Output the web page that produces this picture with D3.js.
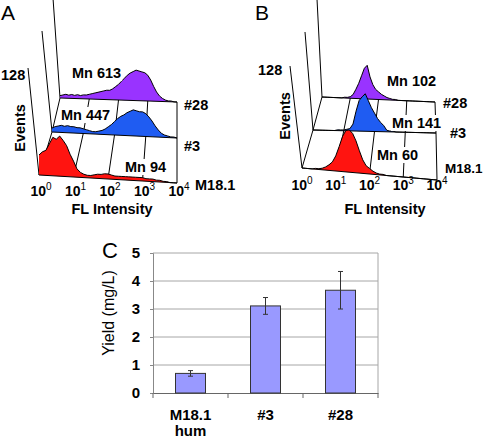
<!DOCTYPE html>
<html><head><meta charset="utf-8">
<script src="https://cdn.jsdelivr.net/npm/d3@7"></script>
<style>
body{margin:0;background:#fff}
svg{display:block}
text{font-family:"Liberation Sans",Arial,sans-serif;fill:#000}
</style>
</head><body>
<svg id="c" width="483" height="440"></svg>
<script>
// ---------------- data ----------------
const logBins = [0,0.1,0.2,0.3,0.4,0.5,0.6,0.7,0.8,0.9,1.0,1.1,1.2,1.3,1.4,1.5,1.6,1.7,1.8,1.9,2.0,
                 2.1,2.2,2.3,2.4,2.5,2.6,2.7,2.8,2.9,3.0,3.1,3.2,3.3,3.4,3.5,3.6,3.7,3.8,3.9,4.0];
const decades = [0,1,2,3,4];
const eventsMax = 128;
const samples = ["M18.1","#3","#28"];
const meansA = ["Mn 94","Mn 447","Mn 613"];
const meansB = ["Mn 60","Mn 141","Mn 102"];
// panel A histograms (events per log bin)
const histA_M181 = [24,28,30,38,46,44,48,43,37,27,19,10,6,4,3,3,4,5,5,6,6,5,4,4,4,4,4,4,4,4,4,3,3,3,2,2,1,1,0,0,0];
const histA_3    = [5,7,8,9,8,9,8,8,7,7,6,5,4,3,3,4,5,7,10,13,17,21,24,26,29,31,33,32,31,31,29,25,20,14,9,5,3,2,1,1,0];
const histA_28   = [3,4,5,4,5,4,5,4,5,5,6,7,8,9,10,11,12,12,14,17,20,24,28,32,35,37,39,38,37,36,33,27,19,12,7,4,2,1,1,0,0];
// panel B histograms
const histB_M181 = [0,0,0,0,1,1,2,4,7,11,19,31,44,52,53,49,40,28,17,10,7,4,2,1,1,0,0,0,0,0,0,0,0,0,0,0,0,0,0,0,0];
const histB_3    = [0,0,0,0,0,0,0,0,1,1,1,2,3,9,26,40,45,49,40,31,24,17,12,8,2,1,1,0,0,0,0,0,0,0,0,0,0,0,0,0,0];
const histB_28   = [0,0,0,0,0,0,0,0,1,1,2,5,12,20,30,40,44,29,19,13,10,7,5,3,2,1,1,0,0,0,0,0,0,0,0,0,0,0,0,0,0];
// panel C
const barCategories = ["M18.1 hum","#3","#28"];
const barLabelLines = [["M18.1","hum"],["#3"],["#28"]];
const yields   = [0.70, 3.11, 3.67];
const yieldErr = [0.10, 0.30, 0.67];
const yieldTicks = [0,1,2,3,4,5];

const histColors = ["#ff1410","#1f5cf2","#9933ff"];
const barColor = "#9999ff";

// ---------------- drawing ----------------
const svg = d3.select("#c");

function addText(g, str, x, y, size, weight, anchor) {
  return g.append("text").attr("x", x).attr("y", y)
    .style("font-size", size + "px").style("font-weight", weight || "bold")
    .attr("text-anchor", anchor || "start").text(str);
}

function drawHistPanel(cfg, hists, means) {
  const g = svg.append("g");
  const F = cfg.floors.map(f => Object.assign({}, f, {
    sx: d3.scaleLinear().domain([0, 4]).range([f.x0, f.x1]),
    sy: d3.scaleLinear().domain([0, 4]).range([f.y0, f.y1]),
    sh: d3.scaleLinear().domain([0, eventsMax]).range([0, f.h])
  }));
  const seg = (x1, y1, x2, y2) => g.append("line")
    .attr("x1", x1).attr("y1", y1).attr("x2", x2).attr("y2", y2)
    .attr("stroke", "#000").attr("stroke-width", 1);

  // event axes (slanted)
  F.forEach(f => seg(f.x0, f.y0, f.x0 + f.dx, f.y0 - f.h));

  for (let i = F.length - 1; i >= 0; i--) {
    const f = F[i];
    if (i < F.length - 1) {
      const b = F[i + 1];
      decades.forEach(d => seg(f.sx(d), f.sy(d), b.sx(d), b.sy(d)));
    }
    const pts = logBins.map((l, k) => ({ l: l, c: hists[i][k] }));
    const area = d3.area().x(d => f.sx(d.l)).y0(d => f.sy(d.l)).y1(d => f.sy(d.l) - f.sh(d.c));
    g.append("path").datum(pts).attr("d", area).attr("fill", histColors[i]);
    const ln = d3.line().x(d => f.sx(d.l)).y(d => f.sy(d.l) - f.sh(d.c));
    g.append("path").datum(pts).attr("d", ln).attr("fill", "none")
      .attr("stroke", "#000").attr("stroke-width", 1);
    seg(f.x0, f.y0, f.x1, f.y1);
  }

  // decade tick labels on front floor
  const fr = F[0];
  decades.forEach(d => {
    const t = g.append("text").attr("x", fr.sx(d) + cfg.tickDx).attr("y", cfg.tickY)
      .attr("text-anchor", "middle").style("font-size", "14px").style("font-weight", "bold");
    t.append("tspan").text("10");
    t.append("tspan").attr("dy", -6).style("font-size", "10px").style("font-weight", "normal").text(d);
  });

  // mean labels with white background
  means.forEach((m, i) => {
    const p = cfg.meanPos[i];
    const t = addText(g, m, p[0], p[1], 14.5, "bold");
    const bb = t.node().getBBox();
    g.insert("rect", () => t.node()).attr("x", bb.x - 1).attr("y", bb.y)
      .attr("width", bb.width + 2).attr("height", bb.height).attr("fill", "#fff");
  });
  samples.forEach((s, i) => addText(g, s, cfg.samplePos[i][0], cfg.samplePos[i][1], cfg.sampleSize[i], "bold"));

  addText(g, cfg.letter, cfg.letterPos[0], cfg.letterPos[1], 21, "normal");
  addText(g, String(eventsMax), cfg.maxPos[0], cfg.maxPos[1], 14.5, "bold");
  g.append("text").attr("transform", `translate(${cfg.eventsPos[0]},${cfg.eventsPos[1]}) rotate(-90)`)
    .attr("text-anchor", "middle").style("font-size", "14.5px").style("font-weight", "bold").text("Events");
  addText(g, "FL Intensity", cfg.flPos[0], cfg.flPos[1], 14.5, "bold", "middle");
}

drawHistPanel({
  floors: [
    { x0: 39, y0: 175, x1: 177, y1: 183, h: 107, dx: -11 },
    { x0: 52, y0: 132, x1: 177, y1: 138, h: 101, dx: -10 },
    { x0: 60, y0: 98,  x1: 177, y1: 102, h: 100, dx: -7 }
  ],
  tickDx: 2, tickY: 196,
  meanPos: [[125, 172], [61, 120], [72, 78]],
  samplePos: [[195, 190], [184, 151], [184, 110]],
  sampleSize: [14.5, 14.5, 14.5],
  letter: "A", letterPos: [1, 20],
  maxPos: [1, 80], eventsPos: [25, 128], flPos: [112, 214]
}, [histA_M181, histA_3, histA_28], meansA);

drawHistPanel({
  floors: [
    { x0: 302, y0: 168, x1: 437, y1: 180, h: 102, dx: -12 },
    { x0: 313, y0: 130, x1: 436, y1: 133, h: 98,  dx: -8 },
    { x0: 322, y0: 97,  x1: 435, y1: 102, h: 98,  dx: -5 }
  ],
  tickDx: 0, tickY: 190,
  meanPos: [[377, 160], [392, 128], [387, 86]],
  samplePos: [[445, 173], [450, 138], [443, 108]],
  sampleSize: [13.5, 14.5, 14.5],
  letter: "B", letterPos: [255, 20],
  maxPos: [258, 75], eventsPos: [290, 116], flPos: [385, 214]
}, [histB_M181, histB_3, histB_28], meansB);

// ---------------- panel C: bar chart ----------------
(function () {
  const g = svg.append("g");
  const left = 153, right = 378, top = 253, bottom = 393;
  const x = d3.scaleBand().domain(barCategories).range([left, right]).paddingInner(0.6).paddingOuter(0.3);
  const y = d3.scaleLinear().domain([0, 5]).range([bottom, top]);

  // gridlines
  g.selectAll("line.grid").data(yieldTicks.filter(t => t > 0)).enter().append("line")
    .attr("x1", left).attr("x2", right).attr("y1", d => y(d)).attr("y2", d => y(d))
    .attr("stroke", "#a6a6a6").attr("stroke-width", 1);
  g.append("line").attr("x1", right).attr("x2", right).attr("y1", top).attr("y2", bottom)
    .attr("stroke", "#a6a6a6");

  // y axis
  const ya = g.append("g").attr("transform", `translate(${left},0)`)
    .call(d3.axisLeft(y).tickValues(yieldTicks).tickFormat(d3.format("d")).tickSize(3).tickPadding(10));
  ya.select(".domain").attr("stroke", "#888");
  ya.selectAll(".tick line").attr("stroke", "#888");
  ya.selectAll("text").style("font-size", "15px").style("font-weight", "bold")
    .style("font-family", '"Liberation Sans",Arial,sans-serif').attr("fill", "#000");

  // bottom axis with category boundary ticks
  const xa = g.append("g").attr("transform", `translate(0,${bottom})`)
    .call(d3.axisBottom(x).tickSize(0).tickFormat(""));
  xa.select(".domain").attr("stroke", "#666");
  const bounds = [0, 1, 2, 3].map(k => left + k * x.step());
  g.selectAll("line.bt").data(bounds).enter().append("line")
    .attr("x1", d => d).attr("x2", d => d).attr("y1", bottom).attr("y2", bottom + 5)
    .attr("stroke", "#666");

  // bars
  g.selectAll("rect.bar").data(barCategories).enter().append("rect")
    .attr("x", d => x(d)).attr("width", x.bandwidth())
    .attr("y", (d, i) => y(yields[i])).attr("height", (d, i) => y(0) - y(yields[i]))
    .attr("fill", barColor).attr("stroke", "#333").attr("stroke-width", 1);

  // error bars and category labels
  barCategories.forEach((c, i) => {
    const cx = x(c) + x.bandwidth() / 2;
    const y1 = y(yields[i] + yieldErr[i]), y2 = y(yields[i] - yieldErr[i]);
    g.append("line").attr("x1", cx).attr("x2", cx).attr("y1", y1).attr("y2", y2).attr("stroke", "#333");
    [y1, y2].forEach(yy => g.append("line").attr("x1", cx - 2.5).attr("x2", cx + 2.5)
      .attr("y1", yy).attr("y2", yy).attr("stroke", "#333"));
    barLabelLines[i].forEach((s, k) => addText(g, s, cx, 420 + k * 16, 15, "bold", "middle"));
  });

  g.append("text").attr("transform", "translate(114,313) rotate(-90)").attr("text-anchor", "middle")
    .style("font-size", "16px").text("Yield (mg/L)");
  addText(g, "C", 102, 258, 22, "normal");
})();
</script>
</body></html>
